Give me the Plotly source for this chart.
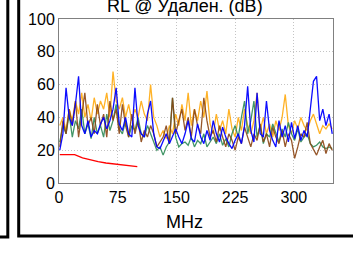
import plotly.graph_objects as go

freq = list(range(1, 351, 4))

blue = [20,30,58,40,35,48,65,35,30,38,
        28,32,30,36,40,33,38,45,58,36,
        32,40,30,28,58,35,30,28,42,50,
        30,22,21,25,30,24,28,33,28,24,
        30,38,27,25,36,28,24,32,26,38,
        30,25,34,28,24,21,26,30,24,35,
        59,32,25,55,30,28,50,32,26,22,
        38,28,35,25,37,27,35,26,32,28,
        45,62,65,38,45,35,42,30]

orange = [35,40,32,45,38,50,42,55,40,48,
          38,52,42,50,45,55,40,68,50,45,
          52,40,48,38,45,40,50,42,38,60,
          40,35,28,32,27,35,30,42,35,48,
          38,55,35,45,38,50,40,56,36,30,
          42,32,38,30,45,33,28,40,32,45,
          35,30,38,55,32,40,30,36,28,38,
          32,40,54,35,30,38,33,40,35,32,
          38,42,36,30,35,33,36,33]

green = [25,35,30,42,28,38,33,45,30,36,
         27,40,30,35,28,42,32,38,48,33,
         30,38,28,35,32,40,30,28,35,30,
         25,20,22,17,22,25,52,28,22,24,
         25,23,28,22,26,24,30,22,25,28,
         24,30,23,27,22,30,35,28,40,50,
         30,38,50,28,35,24,30,28,36,30,
         25,33,28,37,30,26,33,25,28,30,
         24,22,23,25,22,21,22,21]

brown = [22,38,30,45,35,50,28,42,55,35,
         40,30,48,35,42,28,50,38,45,30,
         48,35,28,42,30,38,25,32,28,35,
         30,22,25,28,35,24,52,30,38,45,
         32,40,28,45,35,30,52,38,28,32,
         25,35,28,22,30,26,20,28,24,34,
         28,22,30,26,36,25,30,22,34,28,
         24,32,22,30,26,15,22,30,28,37,
         24,20,17,22,26,18,24,20]

limit_freq = [1, 20, 30, 40, 50, 60, 70, 80, 90, 100]
limit_vals = [17.3, 17.3, 15.3, 14.0, 13.0, 12.2, 11.6, 11.0, 10.5, 10.0]

x_ticks = [0, 75, 150, 225, 300]
y_ticks = [0, 20, 40, 60, 80, 100]

fig = go.Figure()
for vals, col in [(orange, "rgba(255,165,0,0.85)"), (green, "rgba(46,139,87,0.9)"),
                  (brown, "rgba(139,69,19,0.9)"), (blue, "rgba(0,0,255,0.95)")]:
    fig.add_trace(go.Scatter(x=freq, y=vals, mode="lines",
                             line=dict(color=col, width=1.3), showlegend=False))
fig.add_trace(go.Scatter(x=limit_freq, y=limit_vals, mode="lines",
                         line=dict(color="#ff0000", width=1.3), showlegend=False))

W, H = 353, 270
L, R, T, B = 59, 333, 19.3, 183.3
pw, ph = R - L, B - T

def px(x):
    return (x - L) / pw

def py(y):
    return (B - y) / ph

fig.update_layout(
    width=W, height=H,
    margin=dict(l=L, r=W - R, t=T, b=H - B),
    paper_bgcolor="white", plot_bgcolor="white",
    font=dict(family="Liberation Sans, Arial", size=16, color="black"),
    xaxis=dict(range=[0, 350], tickvals=x_ticks, showgrid=True,
               gridcolor="#c4c4c4", griddash="1px,2px", gridwidth=1,
               showline=True, linecolor="#808080", linewidth=1, mirror=True,
               zeroline=False, ticks="", tickfont=dict(size=16)),
    yaxis=dict(range=[0, 100], tickvals=y_ticks, showgrid=True,
               gridcolor="#c4c4c4", griddash="1px,2px", gridwidth=1,
               showline=True, linecolor="#808080", linewidth=1, mirror=True,
               zeroline=False, ticks="", tickfont=dict(size=16)),
    annotations=[
        dict(text="RL @ Удален. (dB)", x=px(185), y=py(6), xref="paper", yref="paper",
             xanchor="center", yanchor="middle", showarrow=False,
             font=dict(size=18)),
        dict(text="MHz", x=px(184.5), y=py(222.5), xref="paper", yref="paper",
             xanchor="center", yanchor="middle", showarrow=False,
             font=dict(size=18)),
    ],
    shapes=[
        dict(type="rect", xref="paper", yref="paper",
             x0=px(18.7), x1=px(365), y0=py(236.4), y1=py(-10),
             line=dict(color="black", width=3)),
        dict(type="rect", xref="paper", yref="paper",
             x0=px(-10), x1=px(7.8), y0=py(237.3), y1=py(-10),
             line=dict(color="black", width=3)),
    ],
)

fig.write_html("out.html", config={"displayModeBar": False},
               post_script="document.body.style.margin='0';document.body.style.overflow='hidden';")
